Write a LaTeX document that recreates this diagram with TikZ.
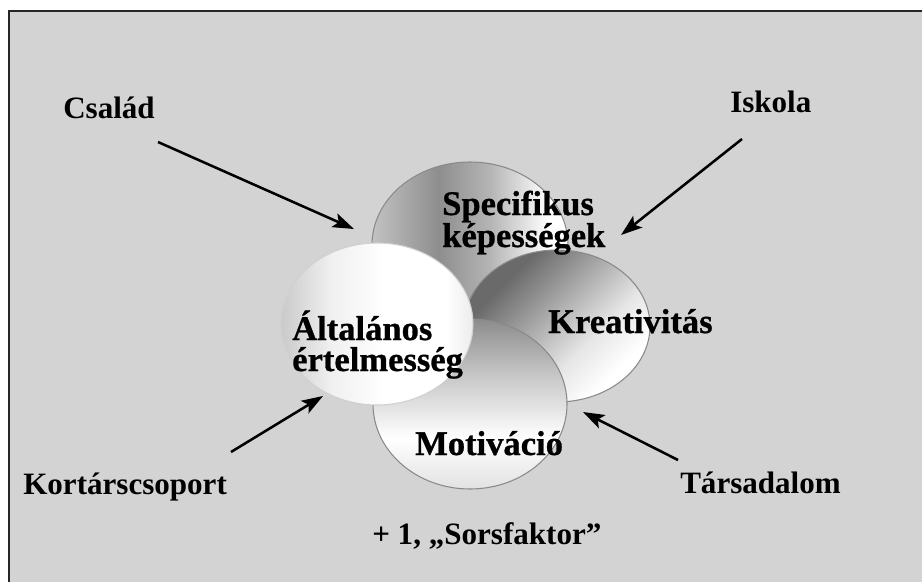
\documentclass[tikz,border=0pt]{standalone}
\usepackage{fontspec}
\setmainfont{Liberation Serif}
\newfontfamily\heavyfont{Liberation Serif}[BoldFeatures={FakeBold=0.8}]
\usetikzlibrary{arrows.meta,shapes.geometric}
\definecolor{bggray}{HTML}{D3D3D3}
\definecolor{bubline}{HTML}{8A8A8A}
\definecolor{sA}{HTML}{C2C2C2}
\definecolor{sB}{HTML}{8E8E8E}
\definecolor{sC}{HTML}{B4B4B4}
\definecolor{kA}{HTML}{6A6A6A}
\definecolor{kB}{HTML}{A8A8A8}
\definecolor{kC}{HTML}{E6E6E6}
\definecolor{mA}{HTML}{8C8C8C}
\definecolor{mC}{HTML}{C8C8C8}
\definecolor{mD}{HTML}{E2E2E2}
\definecolor{aA}{HTML}{CACACA}
\definecolor{aB}{HTML}{F0F0F0}
\definecolor{aC}{HTML}{ECECEC}
\pgfdeclarehorizontalshading{specsh}{100bp}{color(0bp)=(sA); color(25bp)=(sA); color(42bp)=(sB); color(55bp)=(sC); color(70bp)=(white); color(100bp)=(white)}
\pgfdeclarehorizontalshading{kresh}{100bp}{color(0bp)=(kA); color(30bp)=(kA); color(45bp)=(kB); color(60bp)=(kC); color(72bp)=(white); color(100bp)=(white)}
\pgfdeclareverticalshading{motsh}{100bp}{color(0bp)=(mD); color(25bp)=(mD); color(40bp)=(white); color(58bp)=(mC); color(75bp)=(mA); color(100bp)=(mA)}
\pgfdeclarehorizontalshading{altsh}{100bp}{color(0bp)=(aA); color(25bp)=(aA); color(38bp)=(aB); color(52bp)=(white); color(68bp)=(white); color(75bp)=(aC); color(100bp)=(aC)}
\begin{document}
\begin{tikzpicture}[x=0.75pt,y=-0.75pt,
  outerlbl/.style={font=\fontsize{23.3}{28}\selectfont\bfseries, inner sep=0pt, anchor=base west, text=black},
  innerlbl/.style={font=\fontsize{25.9}{30}\selectfont\heavyfont\bfseries, inner sep=0pt, anchor=base west, text=black},
  arr/.style={line width=1.9pt, draw=black, -{Stealth[length=16pt,width=11pt,inset=3.5pt]}},
  bubble/.style={ellipse, draw=bubline, line width=0.8pt, shade, inner sep=0pt}]
\useasboundingbox (0,0) rectangle (922,582);
\fill[white] (0,0) rectangle (922,582);
\fill[bggray] (9,11) rectangle (922,582);
\draw[line width=1.8pt, black!85] (9,582) -- (9,11) -- (922,11);
% bubbles
\node[bubble, shading=specsh, minimum width=147pt, minimum height=124.5pt] (spec) at (470,245) {};
\node[bubble, shading=kresh, shading angle=-45, minimum width=139.5pt, minimum height=114pt] (krea) at (557,326) {};
\node[bubble, shading=motsh, minimum width=145.5pt, minimum height=127.5pt] (moti) at (470,404) {};
\node[bubble, shading=altsh, draw=bubline!40, minimum width=144pt, minimum height=121.5pt] (alta) at (377,324) {};
% bubble labels
\node[innerlbl] (spec1) at (442,215) {Specifikus};
\node[innerlbl] (spec2) at (442,247) {képességek};
\node[innerlbl] (kreal) at (548,333) {Kreativitás};
\node[innerlbl] (motil) at (415,455) {Motiváció};
\node[innerlbl] (alta1) at (292,340) {Általános};
\node[innerlbl] (alta2) at (292,371) {értelmesség};
% outer labels
\node[outerlbl] (csalad) at (63,118) {Család};
\node[outerlbl] (iskola) at (730,112) {Iskola};
\node[outerlbl] (kortars) at (23,494) {Kortárscsoport};
\node[outerlbl] (tarsad) at (680,493) {Társadalom};
\node[outerlbl] (sors) at (372,544) {+ 1, „Sorsfaktor”};
% arrow ends
\coordinate (c0) at (158,142); \coordinate (c1) at (354,229);
\coordinate (i0) at (742,139); \coordinate (i1) at (621,235);
\coordinate (k0) at (231,452); \coordinate (k1) at (323,396);
\coordinate (t0) at (678,460); \coordinate (t1) at (583,412);
\draw[arr] (c0) -- (c1);
\draw[arr] (i0) -- (i1);
\draw[arr] (k0) -- (k1);
\draw[arr] (t0) -- (t1);
\end{tikzpicture}
\end{document}
